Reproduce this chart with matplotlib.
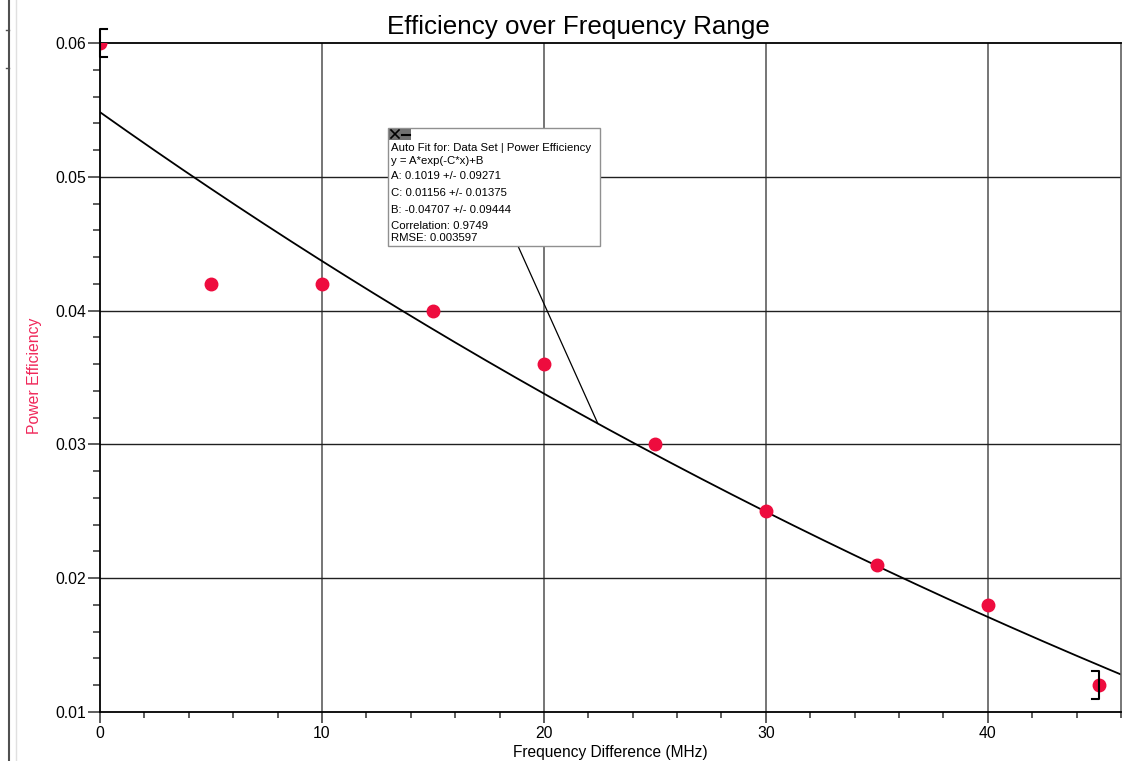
import numpy as np
import matplotlib
matplotlib.use("Agg")
import matplotlib.pyplot as plt
from matplotlib.patches import Rectangle
from matplotlib.lines import Line2D
from matplotlib.ticker import MultipleLocator

plt.rcParams['font.family'] = ['Liberation Sans', 'DejaVu Sans']

# measured data
freq_diff = [0, 5, 10, 15, 20, 25, 30, 35, 40, 45]
power_eff = [0.060, 0.042, 0.042, 0.040, 0.036, 0.030, 0.025, 0.021, 0.018, 0.012]

# fit result from Logger Pro: y = A*exp(-C*x)+B
A = 0.1019
C = 0.01156
B = -0.04707
fit_lines = ["Auto Fit for: Data Set | Power Efficiency",
             "y = A*exp(-C*x)+B",
             "A: 0.1019 +/- 0.09271",
             "C: 0.01156 +/- 0.01375",
             "B: -0.04707 +/- 0.09444",
             "Correlation: 0.9749",
             "RMSE: 0.003597"]
fit_range = [0, 45]

W, H = 1127, 761
red = '#ee0c3e'

def px(x, y):
    # pixel position -> figure fraction
    return x / W, 1 - y / H

fig = plt.figure(figsize=(W / 100, H / 100), dpi=100)
ax = fig.add_axes([100 / W, 1 - 712 / H, (1121 - 100) / W, (712 - 43) / H])

# grid
for v in [10, 20, 30, 40]:
    ax.axvline(v, color='#505050', lw=1.1, zorder=0)
for v in [0.02, 0.03, 0.04, 0.05]:
    ax.axhline(v, color='#202020', lw=1.0, zorder=0)

# fitted curve
xf = np.linspace(0, 46, 300)
yf = A * np.exp(-C * xf) + B
ax.plot(xf, yf, color='black', lw=1.3, zorder=2)

# data points
ax.plot(freq_diff, power_eff, 'o', color=red, markersize=9, zorder=3)

# range brackets for the fit
cap = 0.3
for i, xb in enumerate(fit_range):
    yb = power_eff[freq_diff.index(xb)]
    d = cap if i == 0 else -cap
    ax.plot([xb + d, xb, xb, xb + d], [yb + 0.00105, yb + 0.00105, yb - 0.00105, yb - 0.00105],
            color='black', lw=1.5, clip_on=False, zorder=4)

ax.set_xlim(0, 46)
ax.set_ylim(0.01, 0.06)
ax.xaxis.set_major_locator(MultipleLocator(10))
ax.xaxis.set_minor_locator(MultipleLocator(2))
ax.yaxis.set_major_locator(MultipleLocator(0.01))
ax.yaxis.set_minor_locator(MultipleLocator(0.002))
ax.set_yticks([0.01, 0.02, 0.03, 0.04, 0.05, 0.06])
ax.set_yticklabels(['0.01', '0.02', '0.03', '0.04', '0.05', '0.06'])
ax.tick_params(which='major', length=9, width=1.1, labelsize=11.3, pad=1, color='#303030')
ax.tick_params(which='minor', length=5, width=1.1, color='#303030')
ax.tick_params(axis='x', which='major', length=8, pad=2)
ax.tick_params(axis='x', which='minor', length=4)
for s in ['left', 'bottom', 'top']:
    ax.spines[s].set_linewidth(1.3)
    ax.spines[s].set_color('black')
ax.spines['right'].set_color('#606060')
ax.spines['right'].set_linewidth(1.2)

# labels
fig.text(*px(578, 27), "Efficiency over Frequency Range", ha='center', va='center', fontsize=18.7)
fig.text(*px(610, 752), "Frequency Difference (MHz)", ha='center', va='center', fontsize=11.2)
fig.text(*px(34, 376), "Power Efficiency", ha='center', va='center', rotation=90,
         fontsize=11.3, color='#f0285a')

# window border on the far left
fig.add_artist(Line2D([9 / W, 9 / W], [0, 1], color='#505050', lw=1.5))
fig.add_artist(Line2D([16 / W, 16 / W], [0, 1], color='#e0e0e0', lw=1.0))
for yy in [30, 68]:
    fig.add_artist(Line2D([6 / W, 9 / W], [1 - yy / H, 1 - yy / H], color='#505050', lw=1.0))

# fit annotation line and box
xa = 22.43
ax.annotate("", xy=(xa, A * np.exp(-C * xa) + B), xycoords='data',
            xytext=px(518, 246), textcoords='figure fraction',
            arrowprops=dict(arrowstyle='-', color='black', lw=0.9, shrinkA=0, shrinkB=0))

bx0, by0 = px(388, 246)
bw, bh = (600 - 388) / W, (246 - 128) / H
fig.add_artist(Rectangle((bx0, by0), bw, bh, transform=fig.transFigure,
                         facecolor='white', edgecolor='#909090', lw=1.0, zorder=5))
# close / minimize icons
for k, x0 in enumerate([389, 400]):
    fig.add_artist(Rectangle(px(x0, 140), 11 / W, 11 / H, transform=fig.transFigure,
                             facecolor='#707070', edgecolor='none', zorder=6))
fig.add_artist(Line2D([391 / W, 399 / W], [1 - 138 / H, 1 - 130 / H], color='black', lw=1.2, zorder=7))
fig.add_artist(Line2D([391 / W, 399 / W], [1 - 130 / H, 1 - 138 / H], color='black', lw=1.2, zorder=7))
fig.add_artist(Line2D([402 / W, 410 / W], [1 - 135 / H, 1 - 135 / H], color='black', lw=1.5, zorder=7))

line_y = [148, 161, 176, 193, 210, 226, 238]
for t, yy in zip(fit_lines, line_y):
    fig.text(*px(391, yy), t, ha='left', va='center', fontsize=8.2, zorder=8)

fig.savefig('out.png', dpi=100)
